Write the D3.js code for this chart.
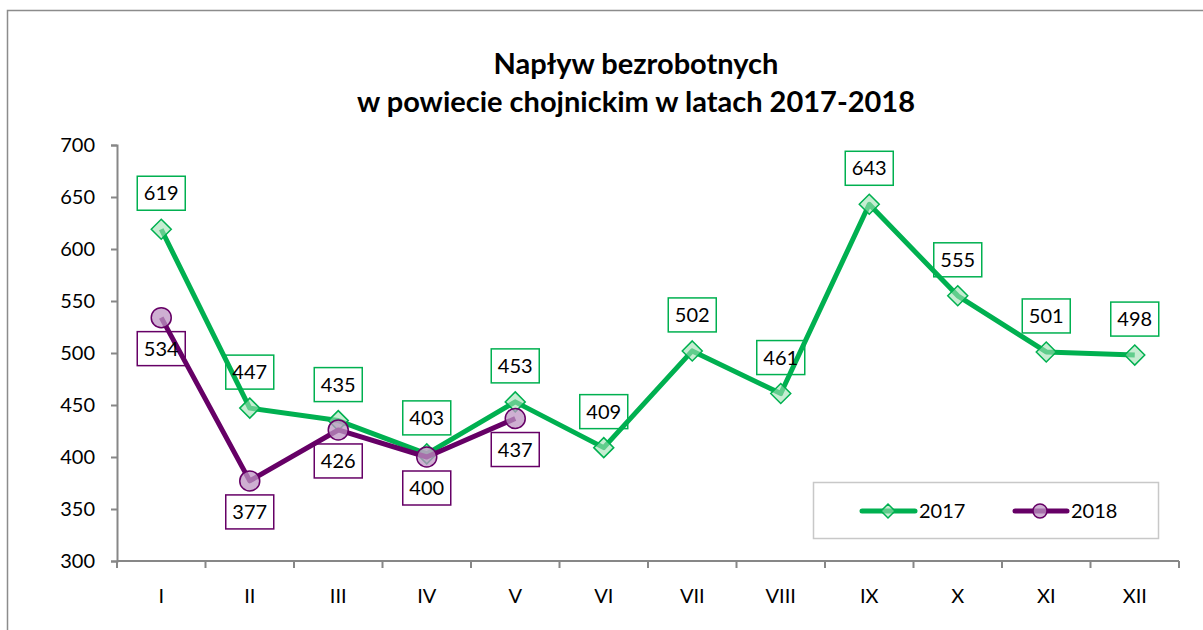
<!DOCTYPE html>
<html>
<head>
<meta charset="utf-8">
<script src="https://cdn.jsdelivr.net/npm/d3@7"></script>
<style>
  html, body { margin: 0; padding: 0; background: #fff; }
  svg { display: block; font-family: Lato, "Open Sans", sans-serif; }
</style>
</head>
<body>
<svg id="chart" width="1203" height="630"></svg>
<script>
const months = ["I","II","III","IV","V","VI","VII","VIII","IX","X","XI","XII"];
const values2017 = [619,447,435,403,453,409,502,461,643,555,501,498];
const values2018 = [534,377,426,400,437];
const yTicks = [300,350,400,450,500,550,600,650,700];
const seriesNames = ["2017","2018"];
const titleLines = ["Napływ bezrobotnych","w powiecie chojnickim w latach 2017-2018"];

const green = "#00B050", greenFill = "rgba(160,225,180,0.6)";
const purple = "#660066", purpleFill = "rgba(190,150,195,0.75)";
const axisColor = "#878787";

const svg = d3.select("#chart");

// outer border
svg.append("rect").attr("x", 7.5).attr("y", 10.5).attr("width", 1220).attr("height", 640)
  .attr("fill", "none").attr("stroke", "#8c8c8c").attr("stroke-width", 1.5);

// title
svg.append("text").attr("x", 636).attr("y", 74).attr("text-anchor", "middle")
  .attr("font-size", 29).attr("font-weight", "bold").text(titleLines[0]);
svg.append("text").attr("x", 636).attr("y", 112).attr("text-anchor", "middle")
  .attr("font-size", 29).attr("font-weight", "bold").text(titleLines[1]);

const pL = 117, pR = 1179, pT = 145, pB = 561;
const x = d3.scaleBand().domain(months).range([pL, pR]).padding(0);
const y = d3.scaleLinear().domain([300, 700]).range([pB, pT]);
const cx = m => x(m) + x.bandwidth() / 2;

// y axis
const yAxis = d3.axisLeft(y).tickValues(yTicks).tickSize(6).tickPadding(16);
const gy = svg.append("g").attr("transform", `translate(${pL},0)`).call(yAxis);
gy.select(".domain").attr("stroke", axisColor).attr("stroke-width", 2);
gy.selectAll(".tick line").attr("stroke", axisColor).attr("stroke-width", 2);
gy.selectAll(".tick text").attr("font-size", 20).attr("fill", "#000").attr("font-family", "Lato");

// x axis
const xs = d3.scaleLinear().domain([0, 12]).range([pL, pR]);
const gx = svg.append("g").attr("transform", `translate(0,${pB})`);
gx.append("line").attr("x1", pL).attr("x2", pR).attr("y1", 0).attr("y2", 0)
  .attr("stroke", axisColor).attr("stroke-width", 2);
gx.selectAll("line.tk").data(d3.range(13)).join("line").attr("class", "tk")
  .attr("x1", d => xs(d)).attr("x2", d => xs(d)).attr("y1", 0).attr("y2", 7)
  .attr("stroke", axisColor).attr("stroke-width", 2);
gx.selectAll("text").data(months).join("text")
  .attr("x", d => cx(d)).attr("y", 42).attr("text-anchor", "middle")
  .attr("font-size", 20).text(d => d);

const line = d3.line().x((d, i) => cx(months[i])).y(d => y(d));

function diamond(g, px, py, r) {
  g.append("path").attr("d", `M${px},${py - r}L${px + r},${py}L${px},${py + r}L${px - r},${py}Z`)
    .attr("fill", greenFill).attr("stroke", green).attr("stroke-width", 1.5);
}
function circle(g, px, py, r) {
  g.append("circle").attr("cx", px).attr("cy", py).attr("r", r)
    .attr("fill", purpleFill).attr("stroke", purple).attr("stroke-width", 1.5);
}

// series 2017
svg.append("path").datum(values2017).attr("d", line).attr("fill", "none")
  .attr("stroke", green).attr("stroke-width", 5).attr("stroke-linejoin", "round");
const m17 = svg.append("g");
values2017.forEach((v, i) => diamond(m17, cx(months[i]), y(v), 10));

// series 2018
svg.append("path").datum(values2018).attr("d", line).attr("fill", "none")
  .attr("stroke", purple).attr("stroke-width", 5).attr("stroke-linejoin", "round");
const m18 = svg.append("g");
values2018.forEach((v, i) => circle(m18, cx(months[i]), y(v), 10));

// labels
function label(px, py, txt, color) {
  const w = 48, h = 34;
  svg.append("rect").attr("x", px - w / 2).attr("y", py - h / 2).attr("width", w).attr("height", h)
    .attr("fill", "none").attr("stroke", color).attr("stroke-width", 1.5);
  svg.append("text").attr("x", px).attr("y", py + 7).attr("text-anchor", "middle")
    .attr("font-size", 20).text(txt);
}
values2017.forEach((v, i) => label(cx(months[i]), y(v) - 36, v, green));
values2018.forEach((v, i) => label(cx(months[i]), y(v) + 31, v, purple));

// legend
svg.append("rect").attr("x", 813.5).attr("y", 482.5).attr("width", 345).attr("height", 56)
  .attr("fill", "#fff").attr("stroke", "#c8c8c8").attr("stroke-width", 1.5);
const lg = svg.append("g");
lg.append("line").attr("x1", 862).attr("x2", 915).attr("y1", 511).attr("y2", 511)
  .attr("stroke", green).attr("stroke-width", 5).attr("stroke-linecap", "round");
lg.append("path").attr("d", "M888,504L895,511L888,518L881,511Z")
  .attr("fill", greenFill).attr("stroke", green).attr("stroke-width", 1.5);
lg.append("text").attr("x", 919).attr("y", 518).attr("font-size", 20).text(seriesNames[0]);
lg.append("line").attr("x1", 1015).attr("x2", 1067).attr("y1", 511).attr("y2", 511)
  .attr("stroke", purple).attr("stroke-width", 5).attr("stroke-linecap", "round");
lg.append("circle").attr("cx", 1040).attr("cy", 511).attr("r", 7)
  .attr("fill", purpleFill).attr("stroke", purple).attr("stroke-width", 1.5);
lg.append("text").attr("x", 1071).attr("y", 518).attr("font-size", 20).text(seriesNames[1]);
</script>
</body>
</html>
